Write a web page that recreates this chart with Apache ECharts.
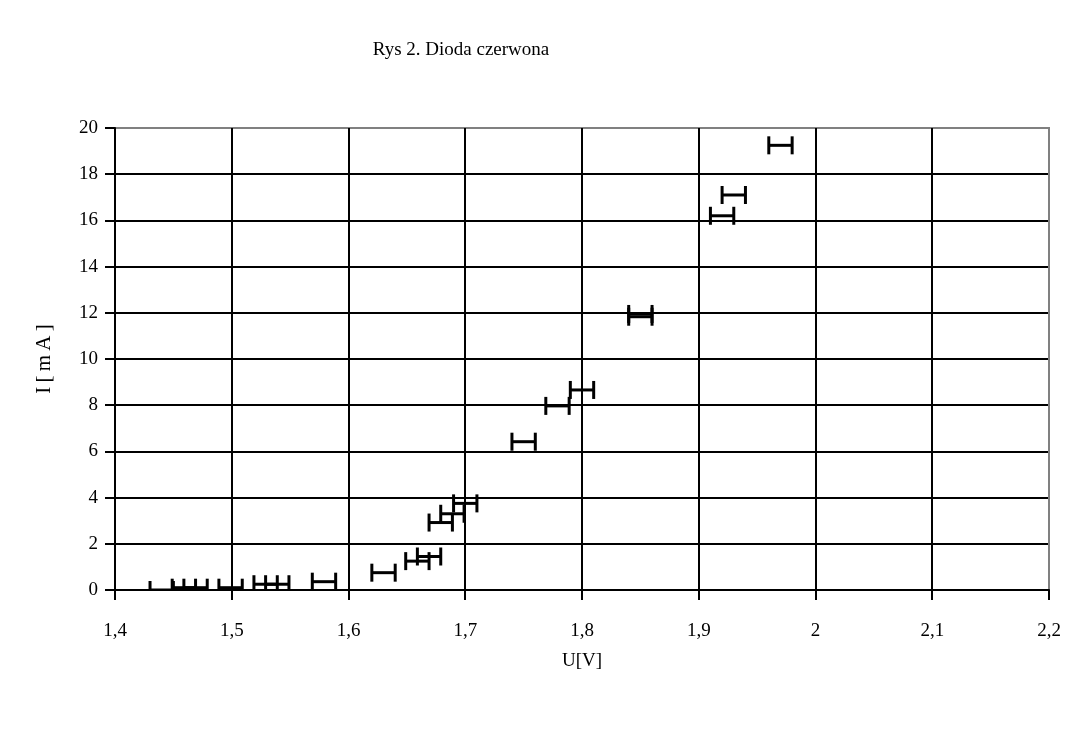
<!DOCTYPE html>
<html>
<head>
<meta charset="utf-8">
<script src="https://cdn.jsdelivr.net/npm/echarts@6/dist/echarts.min.js"></script>
<style>html,body{margin:0;padding:0;background:#fff;}#c{width:1090px;height:739px;}</style>
</head>
<body>
<div id="c"></div>
<script>
// Measured voltage U [V] and current I [mA]
const voltageU = [1.44, 1.459, 1.469, 1.499, 1.529, 1.539, 1.579, 1.63, 1.659, 1.669, 1.679, 1.689, 1.70, 1.75, 1.779, 1.80, 1.85, 1.85, 1.92, 1.93, 1.97];
const currentI = [0.0, 0.1, 0.1, 0.1, 0.25, 0.25, 0.36, 0.75, 1.25, 1.45, 2.92, 3.3, 3.75, 6.42, 7.97, 8.66, 11.83, 11.95, 16.2, 17.1, 19.25];
// Horizontal uncertainty of U for each point
const errorU = [0.01, 0.01, 0.01, 0.01, 0.01, 0.01, 0.01, 0.01, 0.01, 0.01, 0.01, 0.01, 0.01, 0.01, 0.01, 0.01, 0.01, 0.01, 0.01, 0.01, 0.01];
const xTickLabels = ['1,4', '1,5', '1,6', '1,7', '1,8', '1,9', '2', '2,1', '2,2'];
const yTickLabels = ['0', '2', '4', '6', '8', '10', '12', '14', '16', '18', '20'];

const FONT = '"Liberation Serif", "Times New Roman", serif';
const chart = echarts.init(document.getElementById('c'), null, {renderer: 'canvas'});
const data = voltageU.map((u, i) => [u, currentI[i], errorU[i]]);

// split line colours: black everywhere, grey for the top/right frame edge
const xSplitColors = xTickLabels.map((_, i) => i === xTickLabels.length - 1 ? '#808080' : '#000');
const ySplitColors = yTickLabels.map((_, i) => i === yTickLabels.length - 1 ? '#808080' : '#000');

chart.setOption({
  backgroundColor: '#fff',
  animation: false,
  title: {
    text: 'Rys 2. Dioda czerwona',
    left: 456, top: 36, textAlign: 'center',
    textStyle: {fontFamily: FONT, fontSize: 19, fontWeight: 'normal', color: '#000'}
  },
  grid: {left: 115, right: 41, top: 128, bottom: 149, show: true, borderColor: '#808080', borderWidth: 2, backgroundColor: 'transparent'},
  xAxis: {
    type: 'value', min: 1.4, max: 2.2, interval: 0.1,
    name: 'U[V]', nameLocation: 'middle', nameGap: 62,
    nameTextStyle: {fontFamily: FONT, fontSize: 19, color: '#000'},
    axisLine: {show: true, onZero: false, lineStyle: {color: '#000', width: 2}},
    axisTick: {show: true, inside: false, length: 10, lineStyle: {color: '#000', width: 2}},
    axisLabel: {margin: 32, fontFamily: FONT, fontSize: 19, color: '#000',
      formatter: (v) => xTickLabels[Math.round((v - 1.4) / 0.1)]},
    splitLine: {show: true, lineStyle: {color: xSplitColors, width: 2}}
  },
  yAxis: {
    type: 'value', min: 0, max: 20, interval: 2,
    name: 'I\u2009[\u2009m\u2009A\u2009]', nameLocation: 'middle', nameGap: 60, nameRotate: 90,
    nameTextStyle: {fontFamily: FONT, fontSize: 21, color: '#000'},
    axisLine: {show: true, onZero: false, lineStyle: {color: '#000', width: 2}},
    axisTick: {show: true, inside: false, length: 10, lineStyle: {color: '#000', width: 2}},
    axisLabel: {margin: 17, fontFamily: FONT, fontSize: 19, color: '#000',
      formatter: (v) => yTickLabels[Math.round(v / 2)]},
    splitLine: {show: true, lineStyle: {color: ySplitColors, width: 2}}
  },
  series: [{
    type: 'custom',
    clip: true,
    data: data,
    encode: {x: 0, y: 1},
    renderItem: function (params, api) {
      const u = api.value(0), I = api.value(1), e = api.value(2);
      const l = api.coord([u - e, I]);
      const r = api.coord([u + e, I]);
      const cap = 9;
      const style = {stroke: '#000', lineWidth: 3, fill: null};
      return {
        type: 'group',
        children: [
          {type: 'line', shape: {x1: l[0], y1: l[1], x2: r[0], y2: r[1]}, style: style},
          {type: 'line', shape: {x1: l[0], y1: l[1] - cap, x2: l[0], y2: l[1] + cap}, style: style},
          {type: 'line', shape: {x1: r[0], y1: r[1] - cap, x2: r[0], y2: r[1] + cap}, style: style}
        ]
      };
    }
  }]
});
</script>
</body>
</html>
